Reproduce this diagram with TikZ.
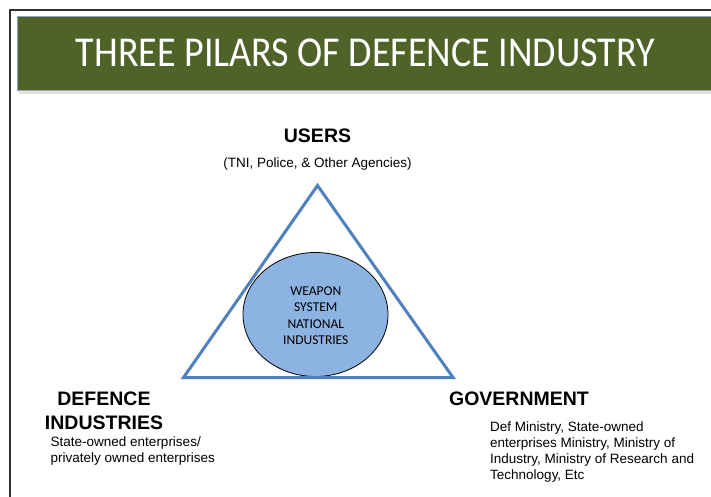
\documentclass[tikz,border=0pt]{standalone}
\usepackage{fontspec}
\setmainfont{Liberation Sans}
\newfontfamily\calibri{Carlito}
\usepackage{xcolor}
\usetikzlibrary{shapes.geometric}

\definecolor{bannergreen}{HTML}{4F6228}
\definecolor{bannerline}{HTML}{8EA9C8}
\definecolor{triblue}{HTML}{4F81BD}
\definecolor{corefill}{HTML}{8DB3E2}
\definecolor{framegray}{HTML}{2E2E2E}

\tikzset{
  pillar/.style={font=\bfseries\fontsize{19.5}{22}\selectfont, anchor=base, inner sep=0pt},
  pillarnote/.style={font=\fontsize{13.5}{16}\selectfont, anchor=base west, inner sep=0pt},
  coreline/.style={font=\calibri\fontsize{13.5}{16}\selectfont, anchor=base, inner sep=0pt},
}

\begin{document}
\begin{tikzpicture}[x=1pt, y=-1pt]
\useasboundingbox (0,0) rectangle (711,497);
\fill[white] (0,0) rectangle (711,497);

% Slide frame
\draw[framegray, line width=2.5pt] (10,497) -- (10,10) -- (711,10);

% Title banner
\fill[black!12] (19,91) rectangle (711,94.5);
\draw[bannerline, fill=bannergreen, line width=1pt] (17,16.5) rectangle (712,91);
\node[font=\calibri\fontsize{38}{44}\selectfont, text=white, anchor=base, inner sep=0pt] (title) at (365.5,66.5) {\scalebox{1}[1.12]{THREE PILARS OF DEFENCE INDUSTRY}};

% Core: weapon system
\node[draw=black, line width=0.8pt, fill=corefill, ellipse, minimum width=145pt, minimum height=124pt, inner sep=0pt] (core) at (315.5,314.5) {};
\node[coreline] (core1) at (315.8,295) {WEAPON};
\node[coreline] (core2) at (315.8,311.5) {SYSTEM};
\node[coreline] (core3) at (315.8,328) {NATIONAL};
\node[coreline] (core4) at (315.8,344.5) {INDUSTRIES};

% Triangle of the three pillars
\coordinate (apex) at (317.5,185.5);
\coordinate (baseL) at (183.5,377.5);
\coordinate (baseR) at (453,377.5);
\draw[triblue, line width=3pt, line join=miter] (apex) -- (baseL) -- (baseR) -- cycle;

% Users
\node[pillar] (users) at (317.5,143) {USERS};
\node[font=\fontsize{13.5}{15}\selectfont, anchor=base, inner sep=0pt] (usersnote) at (317.5,167.5) {(TNI, Police, \& Other Agencies)};

% Defence industries
\node[pillar] (defind1) at (104,405.5) {DEFENCE};
\node[pillar] (defind2) at (104,429) {INDUSTRIES};
\node[pillarnote] (defnote1) at (50.5,446) {State-owned enterprises/};
\node[pillarnote] (defnote2) at (50.5,462.5) {privately owned enterprises};

% Government
\node[pillar] (gov) at (519,405.5) {GOVERNMENT};
\node[pillarnote] (govnote1) at (490,431) {Def Ministry, State-owned};
\node[pillarnote] (govnote2) at (490,447) {enterprises Ministry, Ministry of};
\node[pillarnote] (govnote3) at (490,463) {Industry, Ministry of Research and};
\node[pillarnote] (govnote4) at (490,479) {Technology, Etc};

\end{tikzpicture}
\end{document}
